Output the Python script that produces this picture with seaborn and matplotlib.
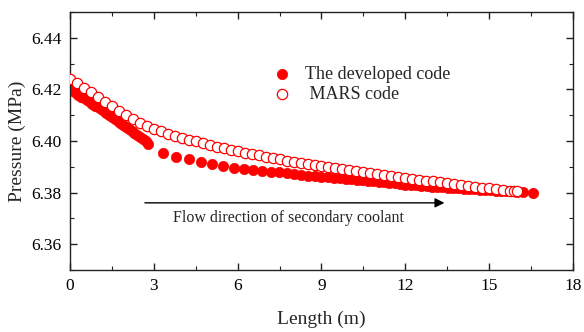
import matplotlib
matplotlib.use("Agg")
import matplotlib.pyplot as plt
from matplotlib.ticker import MultipleLocator
import pandas as pd
import seaborn as sns

# Developed code (filled markers)
dev_length = [
    0.0, 0.1, 0.2, 0.3, 0.4, 0.5, 0.6, 0.7, 0.8, 0.9,
    1.0, 1.1, 1.2, 1.3, 1.4, 1.5, 1.6, 1.7, 1.8, 1.9,
    2.0, 2.1, 2.2, 2.3, 2.4, 2.5, 2.6, 2.7, 2.8,
    3.32, 3.79, 4.24, 4.69, 5.07, 5.49, 5.88, 6.23, 6.56, 6.88,
    7.18, 7.47, 7.75, 8.02, 8.28, 8.53, 8.77, 9.00, 9.22, 9.44,
    9.65, 9.86, 10.06, 10.26, 10.46, 10.66, 10.86, 11.05, 11.24, 11.43,
    11.62, 11.81, 12.00, 12.19, 12.38, 12.57, 12.76, 12.95, 13.14, 13.33,
    13.52, 13.71, 13.90, 14.09, 14.28, 14.47, 14.66, 14.85, 15.04, 15.23,
    15.42, 15.61, 15.80, 15.99, 16.20, 16.56,
]
dev_pressure = [
    6.4200, 6.4193, 6.4186, 6.4179, 6.4172, 6.4165, 6.4158, 6.4151, 6.4144, 6.4137,
    6.4130, 6.4122, 6.4115, 6.4107, 6.4100, 6.4092, 6.4085, 6.4077, 6.4070, 6.4062,
    6.4054, 6.4046, 6.4039, 6.4030, 6.4022, 6.4014, 6.4006, 6.3998, 6.3990,
    6.3955, 6.3939, 6.3929, 6.3920, 6.3911, 6.3904, 6.3896, 6.3891, 6.3887, 6.3884,
    6.3881, 6.3878, 6.3875, 6.3872, 6.3869, 6.3866, 6.3864, 6.3862, 6.3859, 6.3857,
    6.3855, 6.3853, 6.3851, 6.3849, 6.3847, 6.3845, 6.3843, 6.3841, 6.3839, 6.3837,
    6.3835, 6.3833, 6.3831, 6.3829, 6.3828, 6.3826, 6.3825, 6.3823, 6.3822, 6.3820,
    6.3819, 6.3817, 6.3816, 6.3814, 6.3813, 6.3812, 6.3810, 6.3809, 6.3808, 6.3807,
    6.3806, 6.3805, 6.3804, 6.3803, 6.3802, 6.3800,
]

# MARS code (open markers)
mars_length = [
    0.00, 0.25, 0.50, 0.75, 1.00, 1.25, 1.50, 1.75, 2.00, 2.25,
    2.50, 2.75, 3.00, 3.25, 3.50, 3.75, 4.00, 4.25, 4.50, 4.75,
    5.00, 5.25, 5.50, 5.75, 6.00, 6.25, 6.50, 6.75, 7.00, 7.25,
    7.50, 7.75, 8.00, 8.25, 8.50, 8.75, 9.00, 9.25, 9.50, 9.75,
    10.00, 10.25, 10.50, 10.75, 11.00, 11.25, 11.50, 11.75, 12.00, 12.25,
    12.50, 12.75, 13.00, 13.25, 13.50, 13.75, 14.00, 14.25, 14.50, 14.75,
    15.00, 15.25, 15.50, 15.75, 15.90, 16.00,
]
mars_pressure = [
    6.4242, 6.4223, 6.4205, 6.4188, 6.4170, 6.4152, 6.4135, 6.4117, 6.4100, 6.4085,
    6.4070, 6.4058, 6.4047, 6.4037, 6.4028, 6.4020, 6.4012, 6.4005, 6.3998, 6.3991,
    6.3985, 6.3978, 6.3972, 6.3966, 6.3960, 6.3954, 6.3949, 6.3944, 6.3939, 6.3934,
    6.3929, 6.3924, 6.3920, 6.3915, 6.3911, 6.3907, 6.3903, 6.3899, 6.3895, 6.3891,
    6.3887, 6.3883, 6.3879, 6.3875, 6.3871, 6.3867, 6.3864, 6.3860, 6.3857, 6.3853,
    6.3850, 6.3846, 6.3843, 6.3839, 6.3836, 6.3832, 6.3829, 6.3825, 6.3822, 6.3819,
    6.3816, 6.3813, 6.3810, 6.3807, 6.3805, 6.3804,
]

RED = "#FF0000"

sns.set_theme(style="ticks")
plt.rcParams.update({
    "font.family": ["Liberation Serif", "DejaVu Serif"],
    "xtick.direction": "in",
    "ytick.direction": "in",
    "xtick.top": True,
    "ytick.right": True,
    "axes.linewidth": 1.0,
    "axes.edgecolor": "#222222",
})

dev = pd.DataFrame({"Length": dev_length, "Pressure": dev_pressure})
mars = pd.DataFrame({"Length": mars_length, "Pressure": mars_pressure})

fig = plt.figure(figsize=(5.84, 3.32), dpi=100)
ax = fig.add_axes([0.12, 0.187, 0.861, 0.777])

sns.scatterplot(data=dev, x="Length", y="Pressure", ax=ax, s=55, color=RED,
                edgecolor=RED, linewidth=0.5, label="The developed code", zorder=2)
sns.scatterplot(data=mars, x="Length", y="Pressure", ax=ax, s=55, facecolor="white",
                edgecolor=RED, linewidth=0.9, label=" MARS code", zorder=3)

ax.set_xlim(0, 18)
ax.set_ylim(6.35, 6.45)
ax.xaxis.set_major_locator(MultipleLocator(3))
ax.xaxis.set_minor_locator(MultipleLocator(1.5))
ax.yaxis.set_minor_locator(MultipleLocator(0.01))
ax.set_yticks([6.36, 6.38, 6.40, 6.42, 6.44])
ax.set_yticklabels(["6.36", "6.38", "6.40", "6.42", "6.44"])
ax.tick_params(which="major", length=5, width=1.0, labelsize=12.5, pad=6,
               colors="#222222", labelcolor="black")
ax.tick_params(which="minor", length=3, width=0.8, colors="#222222")
ax.set_xlabel("Length (m)", fontsize=14, labelpad=12)
ax.set_ylabel("Pressure (MPa)", fontsize=14, labelpad=4)

ax.annotate("", xy=(13.5, 6.376), xytext=(2.58, 6.376),
            arrowprops=dict(arrowstyle="-|>", color="black", lw=1.0, mutation_scale=14))
ax.text(7.8, 6.3702, "Flow direction of secondary coolant", ha="center", va="center", fontsize=11.5)

ax.legend(loc="upper left", bbox_to_anchor=(0.371, 0.82), frameon=False, fontsize=13,
          handletextpad=0.3, labelspacing=0.2, borderaxespad=0, markerscale=1.0)

fig.savefig("out.png", dpi=100)
